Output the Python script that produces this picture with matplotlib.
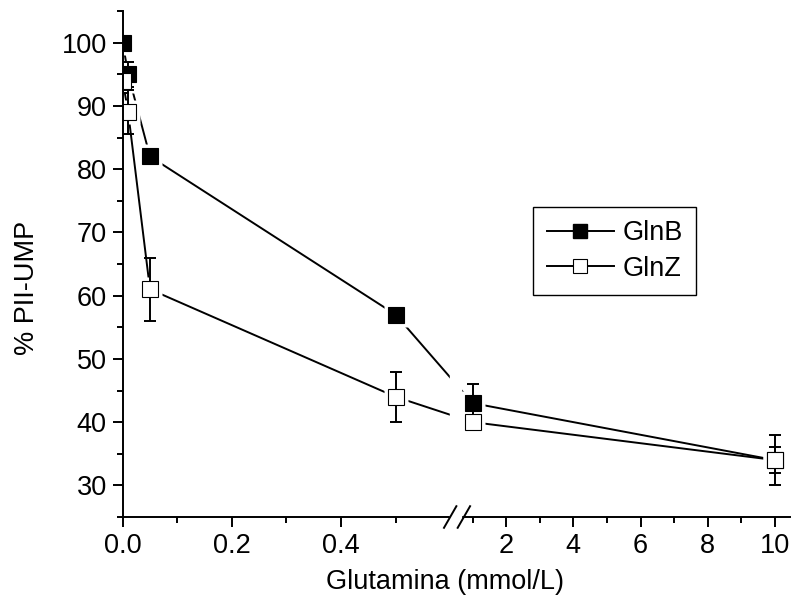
import numpy as np
import matplotlib
matplotlib.use("Agg")
import matplotlib.pyplot as plt
from matplotlib.lines import Line2D
from matplotlib.ticker import FixedLocator, FixedFormatter

plt.rcParams['font.family'] = ['Liberation Sans', 'DejaVu Sans']

# dados
glutamina = [0, 0.01, 0.05, 0.5, 1, 10]
glnb = [100, 95, 82, 57, 43, 34]
glnb_err = [0, 2, 1, 1, 3, 2]
glnz = [94, 89, 61, 44, 40, 34]
glnz_err = [2, 3.5, 5, 4, 1, 4]

x_major = [0, 0.2, 0.4, 2, 4, 6, 8, 10]
x_major_lbl = ['0.0', '0.2', '0.4', '2', '4', '6', '8', '10']
x_minor = [0.1, 0.3, 0.5, 1, 3, 5, 7, 9]

# eixo x quebrado: 0-0.6 (escala fina) e 0.66-10.45 (escala grossa)
r = 33.6 / 546
g = 11 / 546
x_pts = [-1.0, 0.6, 0.66, 12.0]
u_pts = [-1.0, 0.6, 0.6 + g, 0.6 + g + (12 - 0.66) * r]


def fwd(x):
    return np.interp(x, x_pts, u_pts)


def inv(u):
    return np.interp(u, u_pts, x_pts)


FS = 19.5
LW = 1.4

fig = plt.figure(figsize=(7.94, 6.01), dpi=100)
ax = fig.add_axes([122.7 / 794, 84 / 601, (790 - 122.7) / 794, 506 / 601])
ax.set_xscale('function', functions=(fwd, inv))
ax.set_xlim(0, 10.45)
ax.set_ylim(25, 105)

# linhas
ax.plot(glutamina, glnb, '-', color='k', lw=LW, zorder=2)
ax.plot(glutamina, glnz, '-', color='k', lw=LW, zorder=2)
# halo branco para o espaço entre linha e símbolo
ax.plot(glutamina, glnb, 's', ms=17.5, color='white', mec='none', zorder=3)
ax.plot(glutamina, glnz, 's', ms=17.5, color='white', mec='none', zorder=3)

ax.errorbar(glutamina, glnb, yerr=glnb_err, fmt='none', ecolor='k',
            elinewidth=LW, capsize=4.5, capthick=LW, zorder=4)
ax.plot(glutamina, glnb, 's', ms=12, mfc='k', mec='k', mew=0.8, zorder=4.5)
ax.errorbar(glutamina, glnz, yerr=glnz_err, fmt='none', ecolor='k',
            elinewidth=LW, capsize=4.5, capthick=LW, zorder=5)
ax.plot(glutamina, glnz, 's', ms=12, mfc='white', mec='k', mew=0.8, zorder=5.5)

# eixos
for s in ['top', 'right']:
    ax.spines[s].set_visible(False)
for s in ['left', 'bottom']:
    ax.spines[s].set_linewidth(LW)
    ax.spines[s].set_zorder(10)

ax.xaxis.set_major_locator(FixedLocator(x_major))
ax.xaxis.set_major_formatter(FixedFormatter(x_major_lbl))
ax.xaxis.set_minor_locator(FixedLocator(x_minor))
ax.set_yticks(np.arange(30, 101, 10))
ax.set_yticks(np.arange(25, 106, 10), minor=True)
ax.tick_params(which='major', direction='out', length=7, width=LW, labelsize=FS)
ax.tick_params(which='minor', direction='out', length=4, width=LW)
ax.tick_params(axis='x', which='major', pad=4.5)
ax.tick_params(axis='y', which='major', pad=4.5)

# quebra do eixo
ax.axvspan(0.6, 0.66, ymin=-0.03, ymax=1, color='white', zorder=11, clip_on=False)
fig.canvas.draw()
inv_fig = fig.transFigure.inverted()
for xb, off in [(0.6, 0.0), (0.66, 2.7)]:
    px, py = ax.transData.transform((xb, 25))
    px += off
    p0 = inv_fig.transform((px - 6.2, py - 10.8))
    p1 = inv_fig.transform((px + 6.2, py + 10.8))
    fig.add_artist(Line2D([p0[0], p1[0]], [p0[1], p1[1]], color='k', lw=LW,
                          transform=fig.transFigure, zorder=12))

fig.text(27 / 794, 1 - 288 / 601, '% PII-UMP', rotation=90,
         ha='center', va='center', fontsize=FS)
fig.text(445 / 794, 1 - 582 / 601, 'Glutamina (mmol/L)',
         ha='center', va='center', fontsize=FS)

handles = [
    Line2D([], [], color='k', lw=LW, marker='s', ms=9.4, mfc='k', mec='k'),
    Line2D([], [], color='k', lw=LW, marker='s', ms=9.4, mfc='white', mec='k', mew=0.8),
]
leg = ax.legend(handles, ['GlnB', 'GlnZ'], loc='upper left',
                bbox_to_anchor=(533 / 794, 1 - 206.7 / 601),
                bbox_transform=fig.transFigure, borderaxespad=0,
                fontsize=FS, frameon=True, fancybox=False, edgecolor='k',
                framealpha=1, handlelength=2.5, handletextpad=0.3,
                labelspacing=0.35, borderpad=0.5)
leg.get_frame().set_linewidth(1.0)
leg.set_zorder(20)

fig.savefig('out.png', dpi=100)
